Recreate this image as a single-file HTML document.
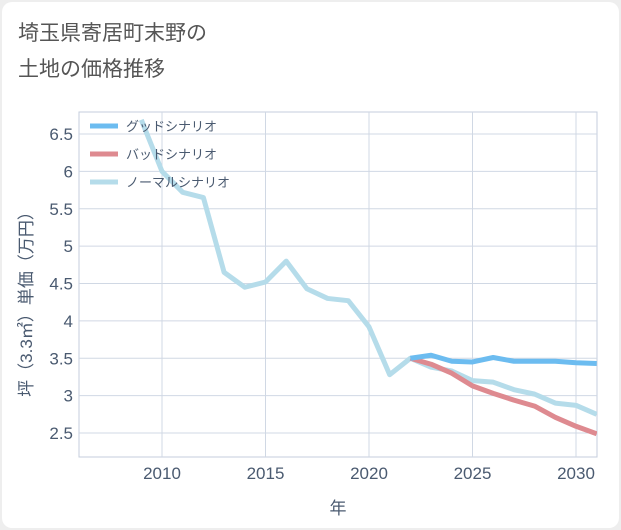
<!DOCTYPE html>
<html><head><meta charset="utf-8"><style>
body{margin:0;background:#fff;}
#wrap{width:621px;height:530px;position:relative;background:#eeeeee;font-family:"Liberation Sans","Noto Sans CJK JP",sans-serif;}
#card{position:absolute;left:2px;top:2px;width:617px;height:526px;background:#fff;border-radius:10px;}
</style></head><body>
<div id="wrap">
<div id="card"></div>
<svg id="svg" width="621" height="530" style="position:absolute;left:0;top:0">
<text x="18" y="40" font-size="21" fill="#555" font-family="Liberation Sans, Noto Sans CJK JP, sans-serif">埼玉県寄居町末野の</text>
<text x="18" y="76" font-size="21" fill="#555" font-family="Liberation Sans, Noto Sans CJK JP, sans-serif">土地の価格推移</text>
</svg>
</div>
<script>
const years=[2009,2010,2011,2012,2013,2014,2015,2016,2017,2018,2019,2020,2021,2022,2023,2024,2025,2026,2027,2028,2029,2030,2031];
const normal=[6.69,6.0,5.72,5.65,4.65,4.45,4.52,4.8,4.43,4.3,4.27,3.92,3.28,3.5,3.38,3.33,3.2,3.18,3.08,3.02,2.9,2.87,2.75];
const goodYears=[2022,2023,2024,2025,2026,2027,2028,2029,2030,2031];
const good=[3.5,3.54,3.46,3.45,3.51,3.46,3.46,3.46,3.44,3.43];
const bad=[3.5,3.42,3.3,3.13,3.03,2.94,2.86,2.71,2.59,2.49];
const xTicks=[2010,2015,2020,2025,2030];
const yTicks=[2.5,3,3.5,4,4.5,5,5.5,6,6.5];
const yTickLabels=["2.5","3","3.5","4","4.5","5","5.5","6","6.5"];
const NS="http://www.w3.org/2000/svg";
const svg=document.getElementById('svg');
const L=79,R=597,T=112,B=457;
const xs=y=>162+(y-2010)*20.7;
const ys=v=>433-(v-2.5)*74.75;
function el(t,a){const e=document.createElementNS(NS,t);for(const k in a)e.setAttribute(k,a[k]);svg.appendChild(e);return e;}
const defs=el('defs',{});
const cp=document.createElementNS(NS,'clipPath');cp.setAttribute('id','clip');
const cr=document.createElementNS(NS,'rect');
cr.setAttribute('x',L);cr.setAttribute('y',T);cr.setAttribute('width',R-L);cr.setAttribute('height',B-T);cp.appendChild(cr);defs.appendChild(cp);
const bg=el('rect',{x:L,y:T,width:R-L,height:B-T,fill:'#fff',stroke:'#c4cedc'});


xTicks.forEach(t=>{
 const g=el('line',{x1:xs(t),x2:xs(t),y1:T,y2:B,stroke:'#d0d8e4'});
 
 
 const tx=el('text',{x:xs(t),y:B+22,'text-anchor':'middle','font-size':17,fill:'#4a5a70'});
 tx.textContent=t;
 
 
});
yTicks.forEach((t,i)=>{
 const g=el('line',{x1:L,x2:R,y1:ys(t),y2:ys(t),stroke:'#d0d8e4'});
 
 
 const tx=el('text',{x:L-6,y:ys(t)+6,'text-anchor':'end','font-size':17,fill:'#4a5a70'});
 tx.textContent=yTickLabels[i];
 
 
});
function line(xv,yv,color,name){
 const p=el('polyline',{points:xv.map((x,i)=>xs(x)+','+ys(yv[i])).join(' '),fill:'none',stroke:color,'stroke-width':5,'stroke-linejoin':'round','clip-path':'url(#clip)'});
 
 
}
line(years,normal,'#b5dcea','normal-scenario-line');
line(goodYears,bad,'#de8a90','bad-scenario-line');
line(goodYears,good,'#6cbcf0','good-scenario-line');
const leg=[['グッドシナリオ','#6cbcf0'],['バッドシナリオ','#de8a90'],['ノーマルシナリオ','#b5dcea']];
leg.forEach((l,i)=>{
 const y=126+i*28;
 const m=el('line',{x1:90,x2:118,y1:y,y2:y,stroke:l[1],'stroke-width':5});
 
 
 const t=el('text',{x:126,y:y+5,'font-size':13,fill:'#4a5a70'});
 t.textContent=l[0];
 
 
});
const xt=el('text',{x:338,y:514,'text-anchor':'middle','font-size':17,fill:'#4a5a70'});
xt.textContent='年';


const yt=el('text',{x:0,y:0,'text-anchor':'middle','font-size':17,fill:'#4a5a70',transform:'translate(32,300) rotate(-90)'});
yt.textContent='坪（3.3㎡）単価（万円）';


</script>
</body></html>
